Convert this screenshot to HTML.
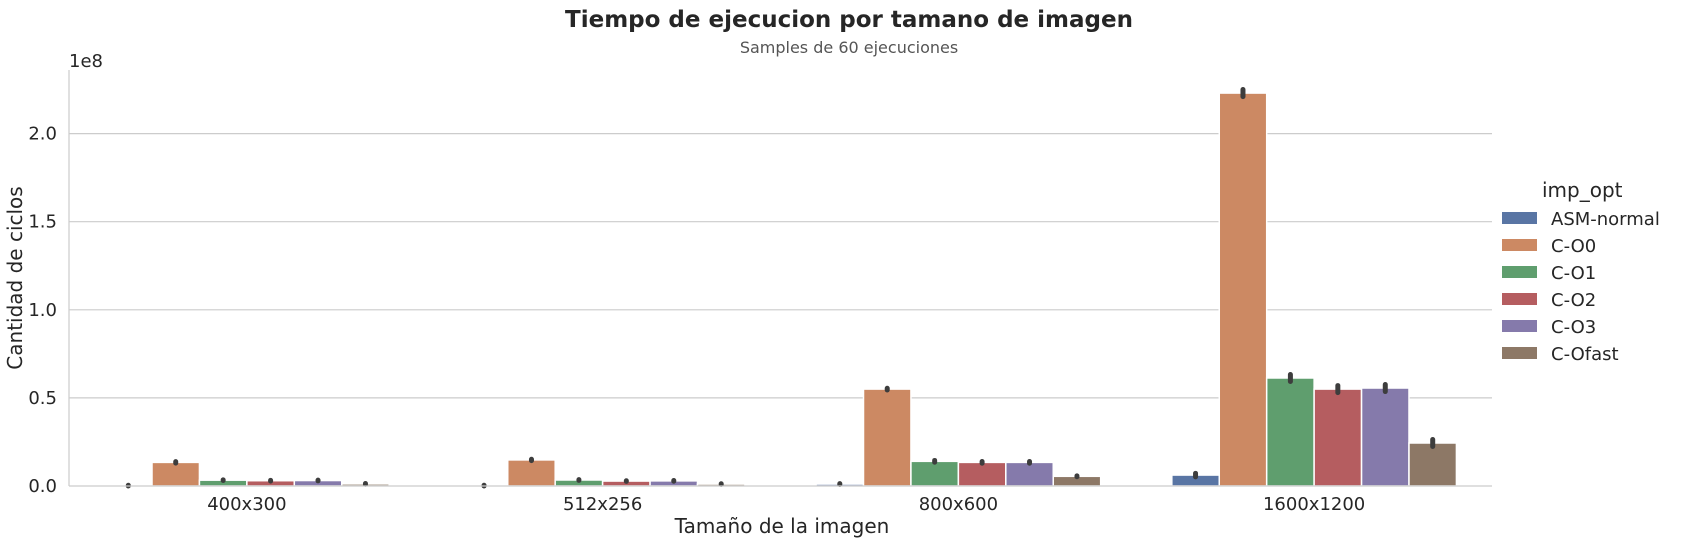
<!DOCTYPE html>
<html><head><meta charset="utf-8"><style>
body{margin:0;background:#fff;}
svg{display:block;font-family:"DejaVu Sans","Liberation Sans",sans-serif;}
</style></head><body>
<svg id="chart" width="1686" height="544" xmlns="http://www.w3.org/2000/svg">
<text x="849" y="27" text-anchor="middle" font-size="23" font-weight="bold" fill="#262626">Tiempo de ejecucion por tamano de imagen</text>
<text x="849" y="53" text-anchor="middle" font-size="16" fill="#555">Samples de 60 ejecuciones</text>
<g id="grid"></g><g id="bars"></g><g id="axes"></g><g id="legend"></g>
</svg>
<script>
const categories = ["400x300","512x256","800x600","1600x1200"];
const seriesNames = ["ASM-normal","C-O0","C-O1","C-O2","C-O3","C-Ofast"];
const asmNormal = [0.002,0.002,0.011,0.062];
const cO0 = [0.134,0.148,0.55,2.23];
const cO1 = [0.033,0.034,0.14,0.613];
const cO2 = [0.03,0.028,0.134,0.55];
const cO3 = [0.031,0.029,0.134,0.556];
const cOfast = [0.012,0.011,0.055,0.244];
const errHalf = [0.004,0.004,0.005,0.02];
const yTicks = [0,0.5,1.0,1.5,2.0];
const yTickLabels = ["0.0","0.5","1.0","1.5","2.0"];
const colors = ["#5975a4","#cc8963","#5f9e6e","#b55d60","#857aab","#8d7866"];
const allSeries = [asmNormal,cO0,cO1,cO2,cO3,cOfast];

const NS="http://www.w3.org/2000/svg";
const X0=69, X1=1492, Y0=486, PXPER=176.2, YTOP=70;
const gw=(X1-X0)/categories.length;
const xC=i=>X0+gw*(i+0.5);
const y=v=>Y0-v*PXPER;
function mk(tag,attrs,parent){const e=document.createElementNS(NS,tag);for(const k in attrs)e.setAttribute(k,attrs[k]);parent.appendChild(e);return e;}
const grid=document.getElementById('grid'),bars=document.getElementById('bars'),axes=document.getElementById('axes'),leg=document.getElementById('legend');
yTicks.forEach((t,i)=>{
  if(t>0){const l=mk('line',{x1:X0,x2:X1,y1:y(t),y2:y(t),stroke:'#cccccc','stroke-width':1.2},grid);
  
  }
  const tx=mk('text',{x:X0-12,y:y(t)+6,'text-anchor':'end','font-size':18,fill:'#262626'},axes);
  tx.textContent=yTickLabels[i];
  
  
});
const bw=gw*0.8/seriesNames.length;
allSeries.forEach((s,j)=>{
  s.forEach((v,i)=>{
    const x=xC(i)-gw*0.4+j*bw;
    const r=mk('rect',{x:x,y:y(v),width:bw,height:Y0-y(v),fill:colors[j],stroke:'#fff','stroke-width':1.5},bars);
    
    
    const e=errHalf[i]*(v>0.1?1:0.5);
    const el=mk('line',{x1:x+bw/2,x2:x+bw/2,y1:y(v+e),y2:y(Math.max(0,v-e)),stroke:'#3d3d3d','stroke-width':5,'stroke-linecap':'round'},bars);
    
    
  });
});
categories.forEach((c,i)=>{
  const t=mk('text',{x:xC(i),y:510,'text-anchor':'middle','font-size':18,fill:'#262626'},axes);
  t.textContent=c;
  
  
});
let a=mk('line',{x1:X0,x2:X0,y1:YTOP,y2:Y0,stroke:'#cccccc','stroke-width':1.2},axes);


a=mk('line',{x1:X0,x2:X1,y1:Y0,y2:Y0,stroke:'#cccccc','stroke-width':1.2},axes);


let t=mk('text',{x:X0,y:67,'font-size':18,fill:'#262626'},axes);t.textContent='1e8';


t=mk('text',{x:782,y:533,'text-anchor':'middle','font-size':20,fill:'#262626'},axes);t.textContent='Tamaño de la imagen';


t=mk('text',{x:0,y:0,'text-anchor':'middle','font-size':20,fill:'#262626',transform:'translate(22,278) rotate(-90)'},axes);t.textContent='Cantidad de ciclos';


t=mk('text',{x:1542,y:197,'font-size':20,fill:'#262626'},leg);t.textContent='imp_opt';


seriesNames.forEach((n,j)=>{
  const yy=218+j*27;
  const r=mk('rect',{x:1502,y:yy-6,width:35,height:12,fill:colors[j]},leg);
  
  
  const tx=mk('text',{x:1551,y:yy+7,'font-size':18,fill:'#262626'},leg);tx.textContent=n;
  
  
});
</script>
</body></html>
